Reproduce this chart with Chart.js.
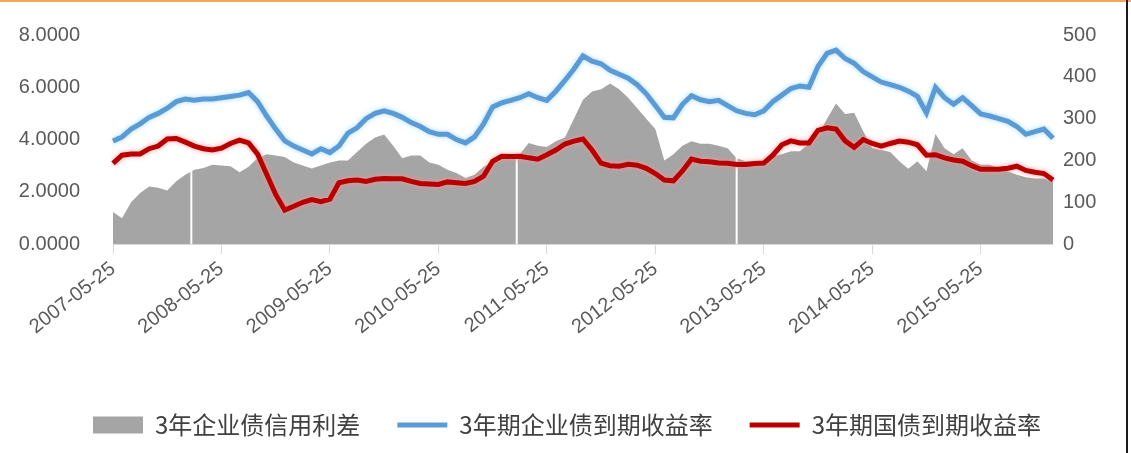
<!DOCTYPE html>
<html>
<head>
<meta charset="utf-8">
<script src="https://cdn.jsdelivr.net/npm/chart.js@4.4.1/dist/chart.umd.min.js"></script>
<style>
  html, body { margin: 0; padding: 0; background: #fff; }
  #wrap { position: relative; width: 1131px; height: 453px; }
  #topline { position: absolute; left: 0; top: 0; width: 1131px; height: 2px; background: #F4A65C; }
  #rightline { position: absolute; left: 1126px; top: 0; width: 2px; height: 453px; background: #1a1a1a; }
</style>
</head>
<body>
<div id="wrap">
  <canvas id="spreadChart"></canvas>
  <div id="topline"></div>
  <div id="rightline"></div>
</div>
<script>
// monthly readings, 2007-05 .. 2016-01
const dates = [];
for (let y = 2007, m = 5; y < 2016 || (y === 2016 && m <= 1); m++) {
  if (m > 12) { m = 1; y++; if (y === 2016 && m > 1) break; }
  dates.push(y + '-' + String(m).padStart(2, '0') + '-25');
}

// 3年企业债信用利差 (bp, right axis)
const spread = [77, 62, 100, 122, 138, 135, 128, 150, 166, 178, 182, 190, 188, 186, 172, 185, 205, 215, 212, 208,
  195, 188, 181, 188, 195, 200, 200, 220, 240, 255, 262, 235, 205, 212, 212, 195, 190, 178, 170, 158,
  166, 185, 195, 205, 208, 215, 242, 235, 232, 246, 255, 300, 345, 365, 370, 384, 370, 350, 325, 300,
  275, 200, 215, 235, 246, 240, 240, 235, 229, 205, 198, 198, 198, 210, 215, 222, 222, 240, 260, 300,
  336, 311, 314, 270, 230, 225, 220, 198, 180, 198, 174, 263, 229, 215, 229, 200, 190, 190, 182, 174,
  166, 160, 157, 157, 150];

// 3年期企业债到期收益率 (%, left axis)
const corpYield = [3.94, 4.1, 4.4, 4.6, 4.85, 5.0, 5.2, 5.45, 5.55, 5.5, 5.55, 5.55, 5.6, 5.65, 5.7, 5.8, 5.45, 4.9, 4.4, 3.95,
  3.75, 3.6, 3.45, 3.65, 3.5, 3.75, 4.25, 4.45, 4.8, 5.0, 5.1, 5.0, 4.85, 4.65, 4.5, 4.3, 4.2, 4.2, 4.0, 3.87,
  4.1, 4.6, 5.25, 5.4, 5.5, 5.6, 5.75, 5.6, 5.5, 5.85, 6.26, 6.7, 7.2, 7.0, 6.9, 6.65, 6.5, 6.35, 6.1, 5.75,
  5.3, 4.85, 4.83, 5.35, 5.68, 5.52, 5.45, 5.5, 5.3, 5.1, 5.0, 4.95, 5.1, 5.45, 5.7, 5.95, 6.05, 6.0, 6.8, 7.3,
  7.42, 7.1, 6.92, 6.6, 6.4, 6.2, 6.1, 6.0, 5.85, 5.65, 5.02, 6.0, 5.6, 5.35, 5.6, 5.3, 4.98, 4.9, 4.8, 4.7,
  4.5, 4.2, 4.3, 4.4, 4.05];

// 3年期国债到期收益率 (%, left axis)
const govYield = [3.09, 3.4, 3.45, 3.45, 3.65, 3.75, 4.02, 4.04, 3.9, 3.75, 3.65, 3.6, 3.67, 3.85, 3.98, 3.87, 3.44, 2.67, 1.9, 1.3,
  1.45, 1.6, 1.7, 1.62, 1.72, 2.35, 2.42, 2.45, 2.4, 2.48, 2.51, 2.5, 2.5, 2.4, 2.32, 2.3, 2.28, 2.38, 2.35, 2.32,
  2.4, 2.6, 3.17, 3.36, 3.35, 3.36, 3.3, 3.25, 3.42, 3.6, 3.83, 3.94, 4.02, 3.6, 3.1, 3.0, 2.98, 3.05, 3.02, 2.9,
  2.7, 2.45, 2.42, 2.8, 3.25, 3.17, 3.15, 3.1, 3.09, 3.05, 3.05, 3.08, 3.1, 3.4, 3.8, 3.95, 3.87, 3.87, 4.35, 4.45,
  4.4, 3.95, 3.7, 4.0, 3.85, 3.75, 3.85, 3.94, 3.9, 3.8, 3.4, 3.42, 3.3, 3.22, 3.17, 3.0, 2.86, 2.86, 2.86, 2.9,
  2.98, 2.82, 2.75, 2.7, 2.45];

// holiday breaks visible as white gaps in the spread area
const spreadBreaks = ['2008-02-15', '2011-02-15', '2013-02-25'];

const textColor = '#595959';
const tickFont = { family: "'Liberation Sans', sans-serif", size: 20 };

function dateToIndex(s) {
  const p = s.split('-').map(Number);
  return (p[0] - 2007) * 12 + (p[1] - 5) + (p[2] - 25) / 30;
}

const breakLines = {
  id: 'breakLines',
  afterDatasetDraw(chart, args) {
    if (args.index !== 0) return;
    const ctx = chart.ctx, area = chart.chartArea, xs = chart.scales.x;
    ctx.save();
    ctx.strokeStyle = '#ffffff';
    ctx.lineWidth = 2;
    spreadBreaks.forEach(function(d) {
      const x = xs.getPixelForValue(dateToIndex(d));
      ctx.beginPath();
      ctx.moveTo(x, area.top);
      ctx.lineTo(x, area.bottom);
      ctx.stroke();
    });
    ctx.restore();
  }
};

const glow = {
  id: 'glow',
  beforeDatasetDraw(chart, args) {
    const ds = chart.data.datasets[args.index];
    if (!ds.glowColor) return;
    chart.ctx.save();
    chart.ctx.shadowColor = ds.glowColor;
    chart.ctx.shadowBlur = 5;
  },
  afterDatasetDraw(chart, args) {
    const ds = chart.data.datasets[args.index];
    if (ds.glowColor) chart.ctx.restore();
  }
};

function fixYWidth(w) {
  return function(s) {
    s.width = w;
    s.paddingTop = 0;
    s.paddingBottom = 0;
  };
}

const config = {
  type: 'line',
  data: {
    labels: dates,
    datasets: [{
      label: '3年企业债信用利差',
      data: spread,
      yAxisID: 'y2',
      fill: 'origin',
      backgroundColor: '#A5A5A5',
      borderColor: '#A5A5A5',
      borderWidth: 0,
      pointRadius: 0,
      pointStyle: 'rect',
      order: 3
    }, {
      label: '3年期企业债到期收益率',
      data: corpYield,
      yAxisID: 'y',
      borderColor: '#5B9BD5',
      backgroundColor: '#5B9BD5',
      borderWidth: 5,
      pointRadius: 0,
      pointStyle: 'line',
      glowColor: 'rgba(160,215,255,0.9)',
      order: 2
    }, {
      label: '3年期国债到期收益率',
      data: govYield,
      yAxisID: 'y',
      borderColor: '#B80000',
      backgroundColor: '#B80000',
      borderWidth: 5,
      pointRadius: 0,
      pointStyle: 'line',
      glowColor: 'rgba(255,150,150,0.9)',
      order: 1
    }]
  },
  options: {
    responsive: true,
    maintainAspectRatio: false,
    animation: false,
    layout: { padding: { top: 35, left: 15, right: 12, bottom: 6 } },
    plugins: {
      tooltip: { enabled: false },
      legend: {
        position: 'bottom',
        labels: {
          usePointStyle: true,
          pointStyleWidth: 50,
          boxHeight: 17,
          padding: 37,
          color: '#404040',
          font: { family: "'Noto Sans CJK SC', sans-serif", size: 24 },
          sort: function(a, b) { return a.datasetIndex - b.datasetIndex; }
        }
      }
    },
    scales: {
      x: {
        offset: false,
        border: { display: true, color: '#D9D9D9' },
        grid: { drawOnChartArea: false, color: '#D9D9D9', tickLength: 10 },
        ticks: {
          autoSkip: false,
          maxRotation: 38,
          minRotation: 38,
          color: textColor,
          font: tickFont,
          callback: function(v, i) {
            const d = dates[i];
            return d.slice(5, 7) === '05' ? d : null;
          }
        },
        afterFit: function(s) {
          s.height += 34;
          s.paddingLeft = 0;
          s.paddingRight = 0;
        }
      },
      y: {
        position: 'left',
        min: 0,
        max: 8,
        border: { display: false },
        grid: { display: false, drawTicks: false },
        ticks: {
          stepSize: 2,
          padding: 33,
          color: textColor,
          font: tickFont,
          callback: function(v) { return v.toFixed(4); }
        },
        afterFit: fixYWidth(98)
      },
      y2: {
        position: 'right',
        min: 0,
        max: 500,
        border: { display: false },
        grid: { display: false, drawTicks: false },
        ticks: { stepSize: 100, padding: 10, color: textColor, font: tickFont },
        afterFit: fixYWidth(66)
      }
    }
  },
  plugins: [breakLines, glow]
};

window.onload = function() {
  const ctx = document.getElementById('spreadChart').getContext('2d');
  new Chart(ctx, config);
};
</script>
</body>
</html>
